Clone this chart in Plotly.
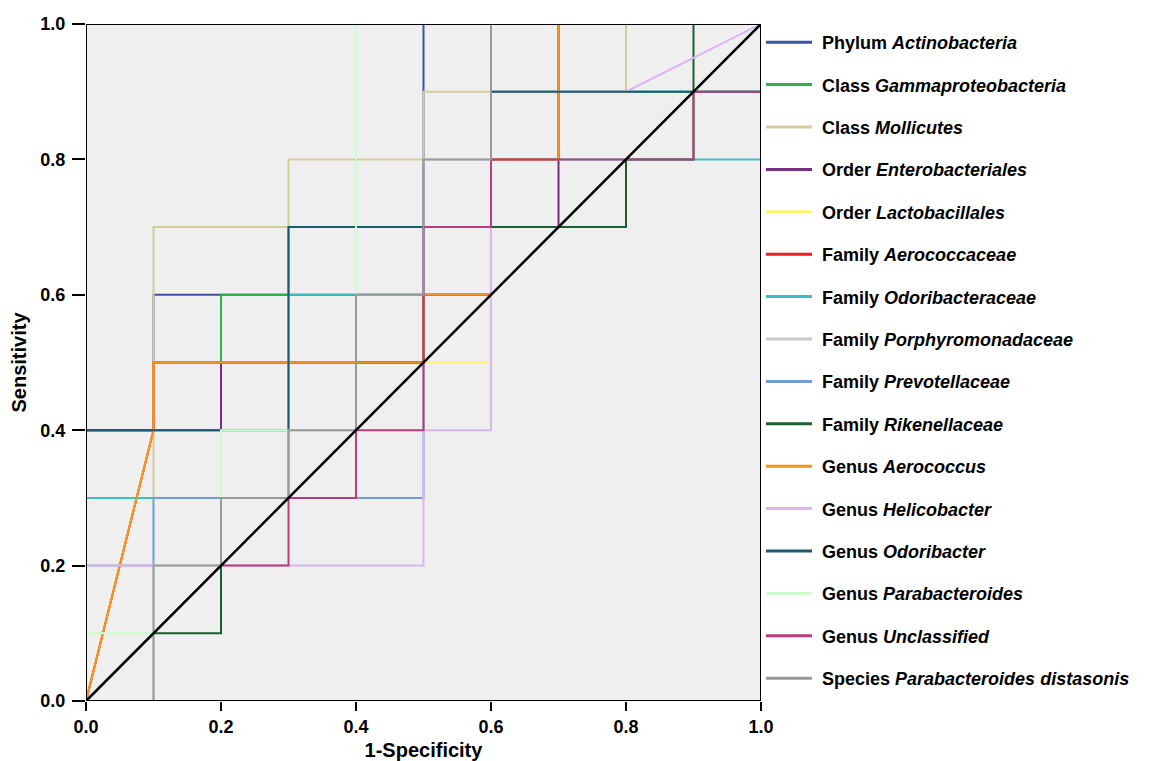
import plotly.graph_objects as go

# ---- data: ROC step curves (1-Specificity, Sensitivity) ----
fpr_actinobacteria = [0, 0, 0.1, 0.1, 0.2, 0.5, 0.5, 1]
tpr_actinobacteria = [0, 0.4, 0.4, 0.6, 0.6, 0.6, 1.0, 1]

fpr_gammaproteobacteria = [0, 0, 0.1, 0.1, 0.2, 0.2, 0.3, 0.3, 0.5, 0.6, 0.6, 1, 1]
tpr_gammaproteobacteria = [0, 0.4, 0.4, 0.5, 0.5, 0.6, 0.6, 0.7, 0.7, 0.7, 0.9, 0.9, 1]

fpr_mollicutes = [0, 0, 0.1, 0.1, 0.3, 0.3, 0.5, 0.5, 0.8, 0.8, 1]
tpr_mollicutes = [0, 0.3, 0.3, 0.7, 0.7, 0.8, 0.8, 0.9, 0.9, 1.0, 1]

fpr_enterobacteriales = [0, 0, 0.2, 0.2, 0.5, 0.5, 0.7, 0.7, 0.7, 1]
tpr_enterobacteriales = [0, 0.4, 0.4, 0.5, 0.5, 0.7, 0.7, 0.8, 1.0, 1]

fpr_lactobacillales = [0, 0.1, 0.1, 0.6, 0.6, 0.7, 0.7, 1]
tpr_lactobacillales = [0, 0.4, 0.5, 0.5, 0.8, 0.8, 1.0, 1]

fpr_aerococcaceae = [0, 0.1, 0.1, 0.5, 0.5, 0.6, 0.6, 0.7, 0.7, 1]
tpr_aerococcaceae = [0, 0.4, 0.5, 0.5, 0.6, 0.6, 0.8, 0.8, 1.0, 1]

fpr_odoribacteraceae = [0, 0, 0.1, 0.3, 0.3, 0.5, 0.5, 0.6, 0.6, 1, 1]
tpr_odoribacteraceae = [0, 0.3, 0.3, 0.3, 0.6, 0.6, 0.7, 0.7, 0.8, 0.8, 1]

fpr_porphyromonadaceae = [0, 0.1, 0.1, 0.2, 0.2, 0.3, 0.3, 0.4, 0.4, 0.5, 0.5, 0.6, 0.6, 1]
tpr_porphyromonadaceae = [0, 0, 0.2, 0.2, 0.3, 0.3, 0.4, 0.4, 0.6, 0.6, 0.8, 0.8, 1.0, 1]

fpr_prevotellaceae = [0, 0, 0.1, 0.1, 0.5, 0.5, 0.6, 0.6, 1, 1]
tpr_prevotellaceae = [0, 0.2, 0.2, 0.3, 0.3, 0.7, 0.7, 0.9, 0.9, 1]

fpr_rikenellaceae = [0, 0.1, 0.2, 0.2, 0.4, 0.4, 0.5, 0.5, 0.6, 0.6, 0.8, 0.8, 0.9, 0.9, 1]
tpr_rikenellaceae = [0, 0.1, 0.1, 0.3, 0.3, 0.5, 0.5, 0.6, 0.6, 0.7, 0.7, 0.8, 0.8, 1.0, 1]

fpr_aerococcus = [0, 0.1, 0.1, 0.5, 0.5, 0.6, 0.6, 0.7, 0.7, 1]
tpr_aerococcus = [0, 0.4, 0.5, 0.5, 0.6, 0.6, 0.8, 0.8, 1.0, 1]

fpr_helicobacter = [0, 0, 0.5, 0.5, 0.6, 0.6, 0.8, 1]
tpr_helicobacter = [0, 0.2, 0.2, 0.4, 0.4, 0.9, 0.9, 1]

fpr_odoribacter = [0, 0, 0.3, 0.3, 0.6, 0.6, 1, 1]
tpr_odoribacter = [0, 0.4, 0.4, 0.7, 0.7, 0.9, 0.9, 1]

fpr_parabacteroides = [0, 0, 0.1, 0.1, 0.2, 0.2, 0.4, 0.4, 1]
tpr_parabacteroides = [0, 0.1, 0.1, 0.2, 0.2, 0.4, 0.4, 1.0, 1]

fpr_unclassified = [0, 0.2, 0.3, 0.3, 0.4, 0.4, 0.5, 0.5, 0.6, 0.6, 0.9, 0.9, 1, 1]
tpr_unclassified = [0, 0.2, 0.2, 0.3, 0.3, 0.4, 0.4, 0.7, 0.7, 0.8, 0.8, 0.9, 0.9, 1]

fpr_distasonis = [0, 0.1, 0.1, 0.2, 0.2, 0.3, 0.3, 0.4, 0.4, 0.5, 0.5, 0.6, 0.6, 1]
tpr_distasonis = [0, 0, 0.2, 0.2, 0.3, 0.3, 0.4, 0.4, 0.6, 0.6, 0.8, 0.8, 1.0, 1]

ref_x = [0, 1]
ref_y = [0, 1]

x_ticks = [0.0, 0.2, 0.4, 0.6, 0.8, 1.0]
y_ticks = [0.0, 0.2, 0.4, 0.6, 0.8, 1.0]

series_labels = [
    ("Phylum", "Actinobacteria"),
    ("Class", "Gammaproteobacteria"),
    ("Class", "Mollicutes"),
    ("Order", "Enterobacteriales"),
    ("Order", "Lactobacillales"),
    ("Family", "Aerococcaceae"),
    ("Family", "Odoribacteraceae"),
    ("Family", "Porphyromonadaceae"),
    ("Family", "Prevotellaceae"),
    ("Family", "Rikenellaceae"),
    ("Genus", "Aerococcus"),
    ("Genus", "Helicobacter"),
    ("Genus", "Odoribacter"),
    ("Genus", "Parabacteroides"),
    ("Genus", "Unclassified"),
    ("Species", "Parabacteroides distasonis"),
]
series_x = [fpr_actinobacteria, fpr_gammaproteobacteria, fpr_mollicutes, fpr_enterobacteriales,
            fpr_lactobacillales, fpr_aerococcaceae, fpr_odoribacteraceae, fpr_porphyromonadaceae,
            fpr_prevotellaceae, fpr_rikenellaceae, fpr_aerococcus, fpr_helicobacter,
            fpr_odoribacter, fpr_parabacteroides, fpr_unclassified, fpr_distasonis]
series_y = [tpr_actinobacteria, tpr_gammaproteobacteria, tpr_mollicutes, tpr_enterobacteriales,
            tpr_lactobacillales, tpr_aerococcaceae, tpr_odoribacteraceae, tpr_porphyromonadaceae,
            tpr_prevotellaceae, tpr_rikenellaceae, tpr_aerococcus, tpr_helicobacter,
            tpr_odoribacter, tpr_parabacteroides, tpr_unclassified, tpr_distasonis]
series_colors = ["#3A53A4", "#2BB44A", "#D3CD97", "#7A2B85", "#FDF46A", "#EE1C25",
                 "#3BBFC2", "#C8C8C8", "#6E9FD4", "#1B5E30", "#F7941D", "#DAB6EF",
                 "#1D5B72", "#CCFFCC", "#B83D7E", "#999999"]

FONT = "Liberation Sans, Arial, sans-serif"
NARROW = "Liberation Sans Narrow, Arial Narrow, Liberation Sans, Arial, sans-serif"

fig = go.Figure()
for (rank, taxon), xs, ys, col in zip(series_labels, series_x, series_y, series_colors):
    label = f"\u00a0<b>{rank} <i>{taxon}</i></b>"
    fig.add_trace(go.Scatter(x=xs, y=ys, mode="lines", line=dict(color=col, width=2),
                             name=label, legendgroup=taxon, showlegend=False,
                             hoverinfo="skip"))
    fig.add_trace(go.Scatter(x=[None], y=[None], mode="lines", line=dict(color=col, width=3),
                             name=label, legendgroup=taxon, showlegend=True))

fig.add_trace(go.Scatter(x=ref_x, y=ref_y, mode="lines", line=dict(color="black", width=2.5),
                         showlegend=False, hoverinfo="skip"))

axis_common = dict(
    range=[0, 1], showgrid=False, zeroline=False, showline=False, automargin=False,
    ticks="outside", tickwidth=2, tickcolor="black",
    tickfont=dict(family=FONT, size=18, color="black", weight="bold"),
    tickformat=".1f",
)

# the page body adds an 8px offset, so the figure is sized/margined to compensate
fig.update_layout(
    width=1143, height=753,
    margin=dict(l=78, r=390, t=16, b=60),
    paper_bgcolor="white", plot_bgcolor="#EFEFEF",
    xaxis=dict(**axis_common, tickvals=x_ticks, ticklen=9,
               title=dict(text="<b>1-Specificity</b>", standoff=8,
                          font=dict(family=NARROW, size=20, color="black"))),
    yaxis=dict(**axis_common, tickvals=y_ticks, ticklen=13, ticklabelstandoff=3,
               title=dict(text="<b>Sensitivity</b>", standoff=10,
                          font=dict(family=NARROW, size=20, color="black"))),
    legend=dict(x=1.0, xanchor="left", y=1.0, yanchor="top",
                font=dict(family=FONT, size=18, color="black"),
                tracegroupgap=16, itemwidth=46, bgcolor="rgba(0,0,0,0)",
                traceorder="grouped"),
    shapes=[dict(type="rect", xref="x", yref="y", x0=0, x1=1, y0=0, y1=1,
                 line=dict(color="black", width=2), layer="above",
                 fillcolor="rgba(0,0,0,0)")],
)

fig.write_html("out.html")
